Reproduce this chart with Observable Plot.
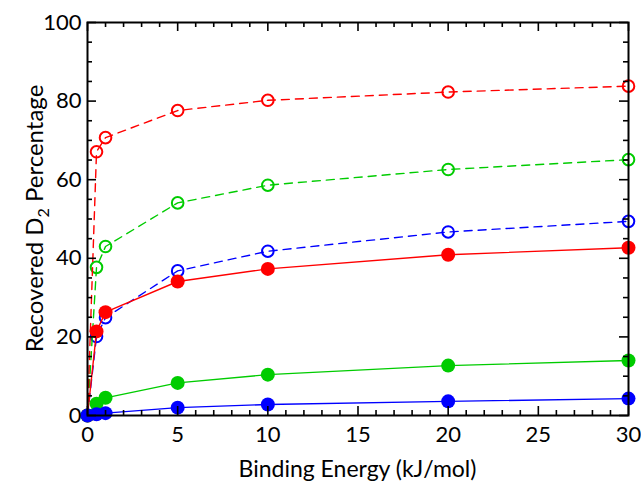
<!DOCTYPE html>
<html><head><meta charset="utf-8">
<script src="https://cdn.jsdelivr.net/npm/d3@7"></script>
<script src="https://cdn.jsdelivr.net/npm/@observablehq/plot@0.6"></script>
<style>body{margin:0;background:#fff;}</style>
</head><body><div id="chart"></div>
<script>
// Data
const energy = [0, 0.5, 1, 5, 10, 20, 30];
const redOpen     = [0, 67.1, 70.7, 77.6, 80.2, 82.3, 83.8];
const greenOpen   = [0, 37.7, 43.0, 54.1, 58.6, 62.6, 65.1];
const blueOpen    = [0, 20.1, 24.9, 36.8, 41.8, 46.7, 49.4];
const redFilled   = [0, 21.4, 26.3, 34.1, 37.3, 40.9, 42.7];
const greenFilled = [0, 3.0, 4.5, 8.3, 10.4, 12.7, 14.0];
const blueFilled  = [0, 0.3, 0.6, 2.0, 2.8, 3.6, 4.3];

const xTicks = [0, 5, 10, 15, 20, 25, 30];
const xMinorTicks = [1,2,3,4,6,7,8,9,11,12,13,14,16,17,18,19,21,22,23,24,26,27,28,29];
const yTicks = [0, 20, 40, 60, 80, 100];
const yMinorTicks = [5,10,15,25,30,35,45,50,55,65,70,75,85,90,95];
const xTitle = "Binding Energy (kJ/mol)";
const yTitleParts = ["Recovered D", "2", " Percentage"];

const series = [
  {values: blueOpen, color: "#0000ff", open: true},
  {values: greenOpen, color: "#00cc00", open: true},
  {values: redOpen, color: "#ff0000", open: true},
  {values: redFilled, color: "#ff0000", open: false},
  {values: greenFilled, color: "#00cc00", open: false},
  {values: blueFilled, color: "#0000ff", open: false}
];

const W = 641, H = 485, mL = 87, mR = 13, mT = 22, mB = 70;
const fw = W - mL - mR, fh = H - mT - mB;
const majorLen = 9, minorLen = 5;
const FONT = "Lato, 'Open Sans', sans-serif";

const marks = [];
for (const s of series) {
  const rows = energy.map((e, i) => ({x: e, y: s.values[i]}));
  marks.push(Plot.line(rows, {x: "x", y: "y", stroke: s.color, strokeWidth: 1.4,
    strokeDasharray: s.open ? "8,6" : null}));
  if (s.open) {
    marks.push(Plot.dot(rows.filter(d => d.x > 0), {x: "x", y: "y", r: 5.8, stroke: s.color, strokeWidth: 2, fill: "none"}));
  } else {
    marks.push(Plot.dot(rows, {x: "x", y: "y", r: 7, fill: s.color, stroke: "none"}));
  }
}
// ticks inward on all four sides
const tickStyle = {stroke: "black", strokeWidth: 1.6};
marks.push(
  Plot.tickX(xTicks, {x: d => d, insetTop: fh - majorLen, ...tickStyle}),
  Plot.tickX(xTicks, {x: d => d, insetBottom: fh - majorLen, ...tickStyle}),
  Plot.tickX(xMinorTicks, {x: d => d, insetTop: fh - minorLen, ...tickStyle}),
  Plot.tickX(xMinorTicks, {x: d => d, insetBottom: fh - minorLen, ...tickStyle}),
  Plot.tickY(yTicks, {y: d => d, insetRight: fw - majorLen, ...tickStyle}),
  Plot.tickY(yTicks, {y: d => d, insetLeft: fw - majorLen, ...tickStyle}),
  Plot.tickY(yMinorTicks, {y: d => d, insetRight: fw - minorLen, ...tickStyle}),
  Plot.tickY(yMinorTicks, {y: d => d, insetLeft: fw - minorLen, ...tickStyle}),
  Plot.frame({stroke: "black", strokeWidth: 2}),
  Plot.axisX({ticks: xTicks, tickSize: 0, tickPadding: 11, label: null, fontSize: 22}),
  Plot.axisY({ticks: yTicks, tickSize: 0, tickPadding: 6, label: null, fontSize: 22})
);

const chart = Plot.plot({
  width: W, height: H,
  marginLeft: mL, marginRight: mR, marginTop: mT, marginBottom: mB,
  x: {domain: [0, 30]},
  y: {domain: [0, 100]},
  style: {fontFamily: FONT, color: "black", background: "white", overflow: "visible"},
  marks
});

const svg = d3.select(chart);
svg.append("text")
  .attr("x", mL + fw / 2).attr("y", H - 8)
  .attr("text-anchor", "middle")
  .attr("font-family", FONT).attr("font-size", 23).attr("fill", "black")
  .text(xTitle);
const yt = svg.append("text")
  .attr("transform", `translate(43,${mT + fh / 2}) rotate(-90)`)
  .attr("text-anchor", "middle")
  .attr("font-family", FONT).attr("font-size", 24).attr("fill", "black");
yt.append("tspan").text(yTitleParts[0]);
yt.append("tspan").attr("dy", 6).attr("font-size", 16).text(yTitleParts[1]);
yt.append("tspan").attr("dy", -6).text(yTitleParts[2]);

document.getElementById("chart").appendChild(chart);
</script>
</body></html>
